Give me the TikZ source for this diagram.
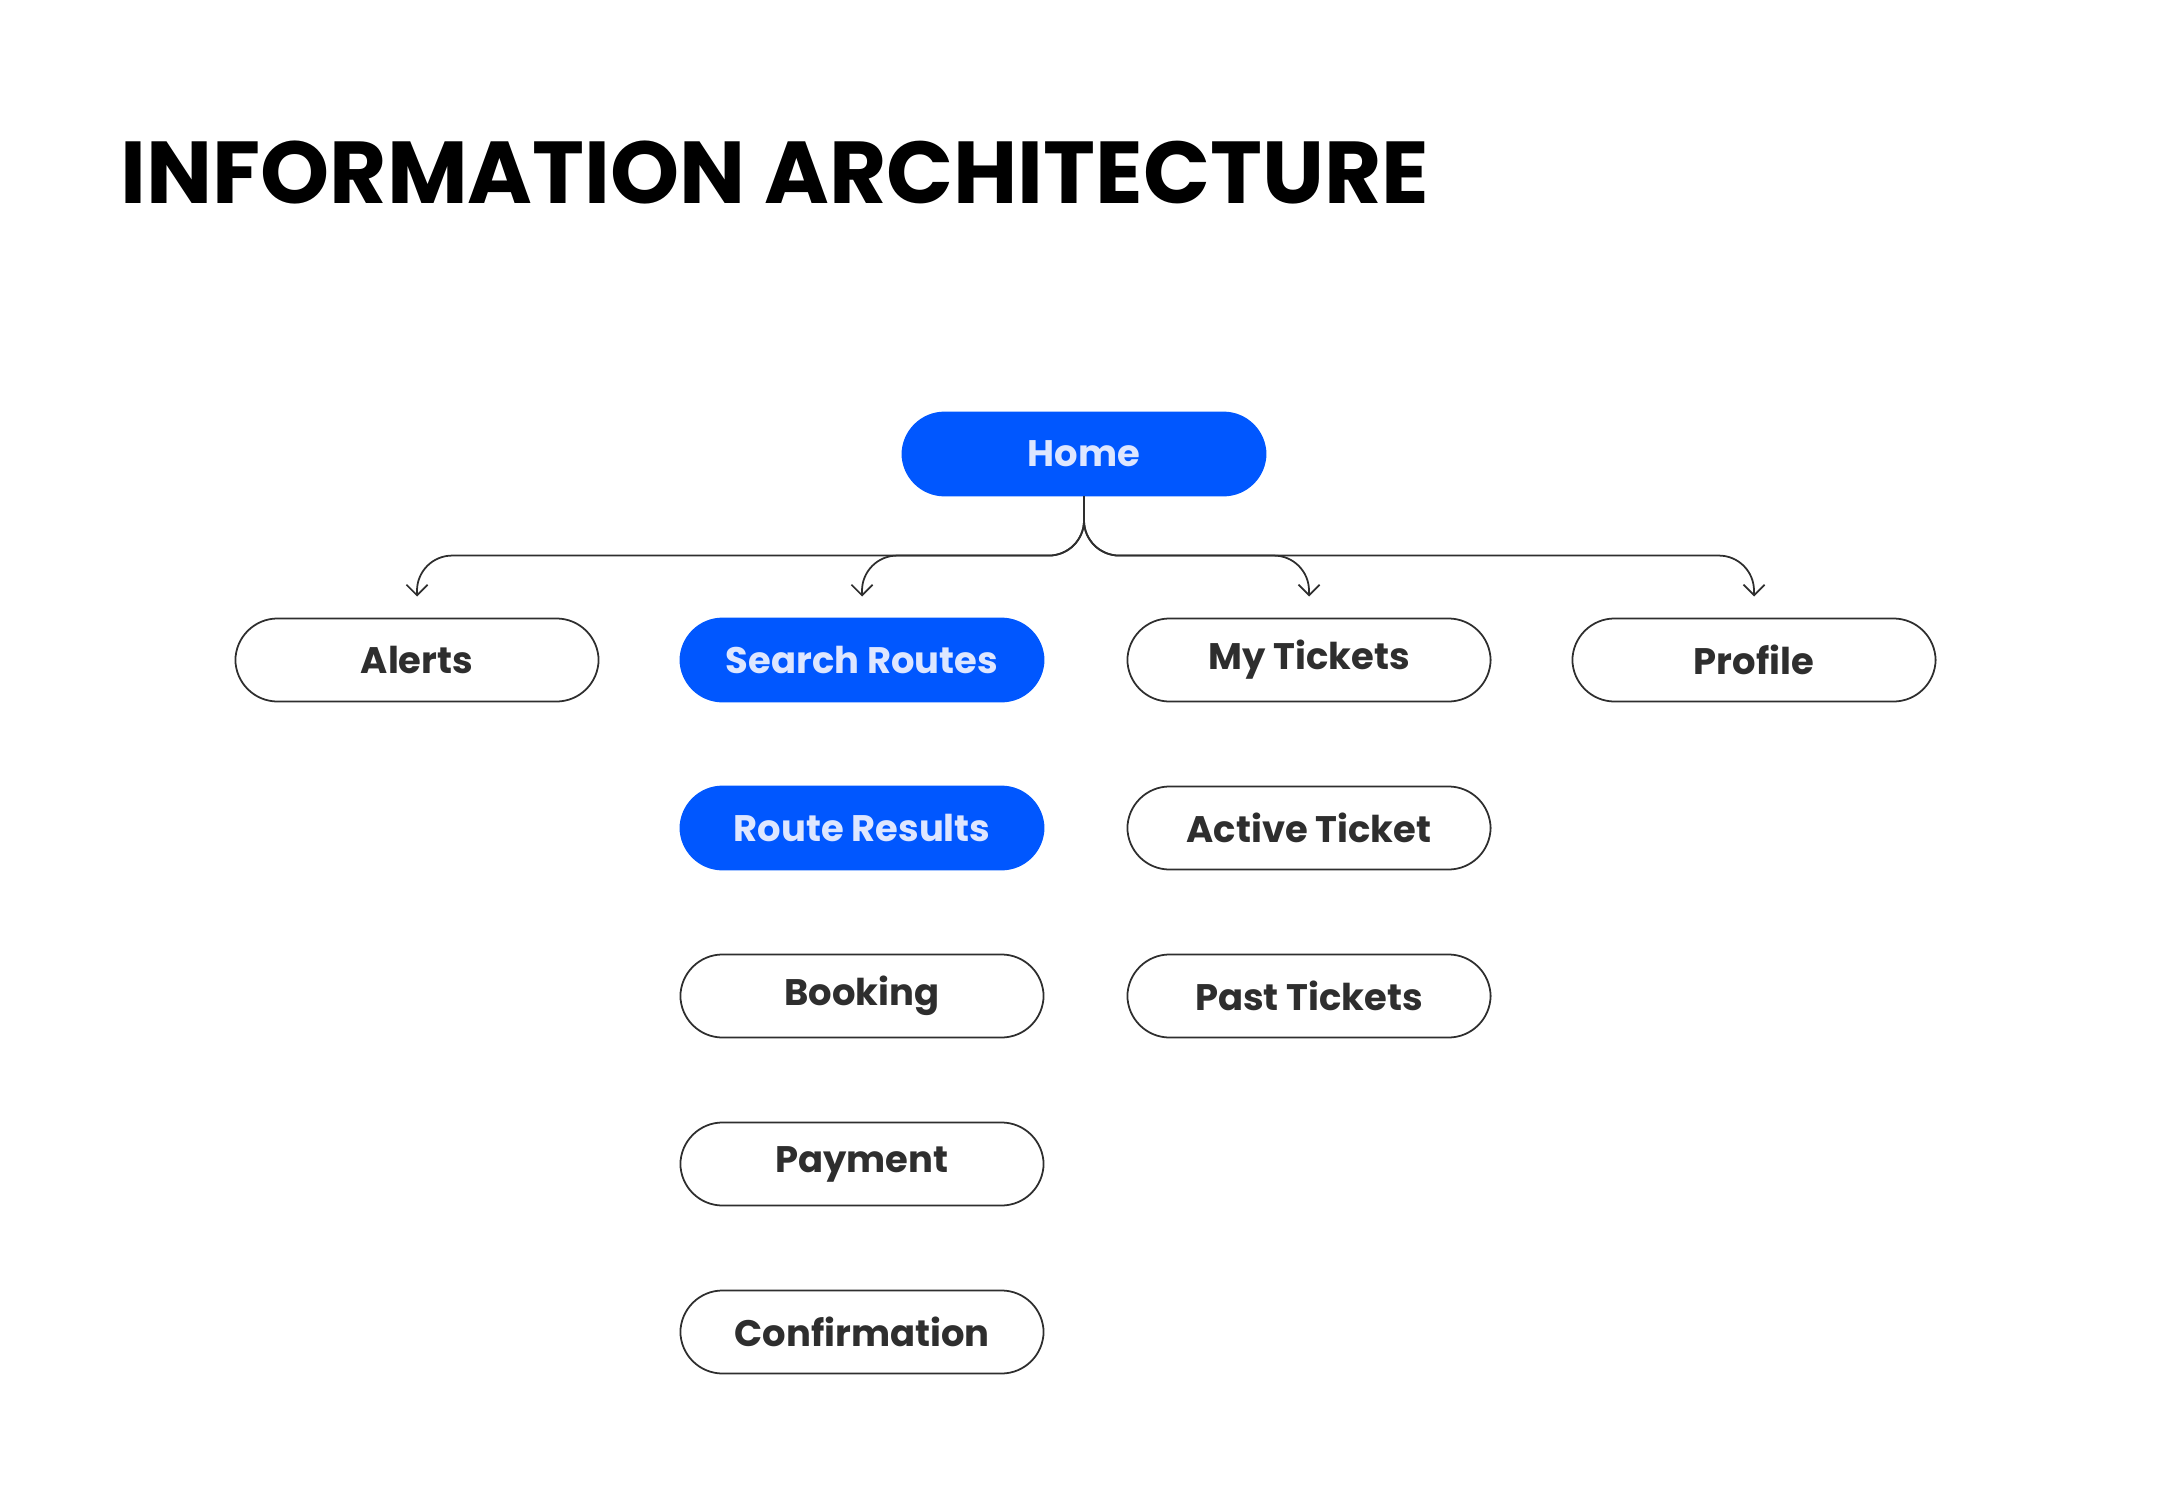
\documentclass[tikz,border=0pt]{standalone}
\usepackage{fontspec}
\setmainfont{Poppins}
\usetikzlibrary{arrows.meta, positioning}
\definecolor{brand}{HTML}{0057FF}
\definecolor{ink}{HTML}{2E2E2E}
\definecolor{paletext}{HTML}{DDE6FF}

\begin{document}
\begin{tikzpicture}[
    x=0.01cm, y=-0.01cm,
    every node/.style={font=\fontsize{10.5}{12}\selectfont\bfseries},
    page/.style={rectangle, draw=ink, rounded corners=12pt, fill=white,
                 minimum width=3.63cm, minimum height=0.83cm, text=ink,
                 line width=0.5pt},
    current/.style={page, draw=brand, fill=brand, text=paletext},
    arrow/.style={-{Straight Barb[length=3pt]}, line width=0.5pt, color=ink,
                  rounded corners=10pt, shorten >=6pt}
]
\useasboundingbox (0,0) rectangle (2160,1488);

% Title
\node[anchor=base west, inner sep=0, font=\fontsize{25}{30}\selectfont\bfseries] (title) at (120,204) {INFORMATION ARCHITECTURE};

% Top level
\node[current] (home) at (1084,454) {Home};
\node[page] (alerts) at (417,660) {Alerts};
\node[current] (search) at (862,660) {Search Routes};
\node[page] (tickets) at (1309,660) {My Tickets};
\node[page] (profile) at (1754,660) {Profile};

% Search flow
\node[current] (results) at (862,828) {Route Results};
\node[page] (booking) at (862,996) {Booking};
\node[page] (payment) at (862,1164) {Payment};
\node[page] (confirm) at (862,1332) {Confirmation};

% Tickets
\node[page] (active) at (1309,828) {Active Ticket};
\node[page] (past) at (1309,996) {Past Tickets};

% Arrows
\foreach \child in {alerts, search, tickets, profile}
  \draw[arrow] (home.south) |- ([yshift=0.62cm]\child.north) -- (\child.north);

\end{tikzpicture}
\end{document}
